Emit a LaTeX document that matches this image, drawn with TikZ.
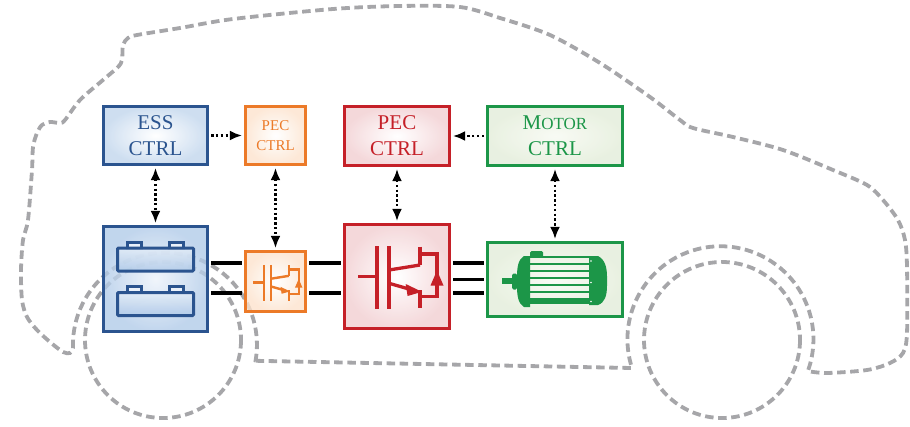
\documentclass[tikz,border=0pt]{standalone}
\usepackage{fontspec}
\setmainfont{Liberation Serif}
\usetikzlibrary{arrows.meta}

\definecolor{essblue}{HTML}{2B548F}
\definecolor{essfill}{HTML}{C0D5EC}
\definecolor{battfill}{HTML}{B0CAE8}
\definecolor{pecorange}{HTML}{EC7A28}
\definecolor{pecfill}{HTML}{FCE2CC}
\definecolor{invred}{HTML}{C52028}
\definecolor{invfill}{HTML}{F1CDD0}
\definecolor{motgreen}{HTML}{1C9648}
\definecolor{motfill}{HTML}{E2ECD8}
\definecolor{cargray}{HTML}{A6A6A9}

\newcommand\bigtxt{\fontsize{21}{26}\selectfont}
\newcommand\smalltxt{\fontsize{15}{19.5}\selectfont}
\newcommand\sctxt{\fontsize{17}{26}\selectfont}

\tikzset{
  box/.style={draw, line width=3.6pt, inner sep=0pt, align=center,
    fill opacity=0.78, text opacity=1, draw opacity=1},
  car/.style={draw=cargray, line width=3.8pt, dash pattern=on 8.5pt off 4.6pt},
  sigtip/.tip={Latex[length=12pt,width=10pt]},
  sig/.style={line width=2.2pt, dash pattern=on 2.4pt off 2.4pt,
    shorten <=1.8pt, shorten >=1.8pt},
  power/.style={line width=3.6pt, black, shorten <=1.8pt, shorten >=1.8pt},
  % IGBT with anti-parallel diode, drawn about its centre
  igbt/.pic={
    \draw (-39,0) -- (-20,0);
    \draw (-20,-30.5) -- (-20,32);
    \draw (-8,-30.5) -- (-8,32);
    \draw (-8,-6.5) -- (23,-11.5);
    \draw (23,-30) -- (23,-11.5);
    \draw (23,-22.5) -- (40,-22.5) -- (40,20) -- (23,20);
    \fill (40,-6) -- (46.5,9) -- (33.5,9) -- cycle;
    \draw (-8,6.8) -- (12,12.5);
    \fill (25,15.3) -- (8.7,7.5) -- (10.6,19.5) -- cycle;
    \draw (23,13.5) -- (23,31.5);
  },
  % one battery cell, drawn about the centre of its body
  cell/.pic={
    \draw[essblue, line width=3pt, fill={rgb,255:red,234;green,241;blue,250}]
      (-28,-17.5) rectangle (-14,-11.5)
      (14,-17.5) rectangle (28,-11.5);
    \draw[essblue, line width=3pt, rounded corners=1pt, fill opacity=0.85,
      top color={rgb,255:red,228;green,237;blue,248}, bottom color=battfill]
      (-38,-11.5) rectangle (38,11.5);
  },
  % electric motor
  motor/.pic={
    \fill (-53,-1.5) rectangle (-40,4.5);
    \fill[rounded corners=1.5pt] (-43,-6) rectangle (-38,10);
    \fill (-25,-23.5) -- (-31,-23.5) .. controls (-37,-20) and (-38,-12) .. (-38,-2)
      -- (-38,6) .. controls (-38,16) and (-37,24) .. (-31,27.5) -- (-25,27.5) -- cycle;
    \fill[rounded corners=1.5pt] (-25,-22) -- (-25,-28.5) -- (-12,-28.5) -- (-12,-22) -- cycle;
    \foreach \yy in {-22.5,-15.5,-8.5,-1.5,5.5,12.5}
      \draw[line width=2.8pt] (-25,\yy) -- (34,\yy);
    \fill (-25,18.5) rectangle (34,24.5);
    \fill (34,-23.5) -- (43,-23.5) .. controls (50,-20) and (52,-12) .. (52,-3)
      -- (52,6) .. controls (52,16) and (50,23) .. (43,25.5) -- (34,25.5) -- cycle;
    \fill[white] (36,-18.5) circle (0.8) (36,3) circle (0.8) (36,22) circle (0.8);
  },
}

\begin{document}
\begin{tikzpicture}[x=1pt,y=-1pt]
\useasboundingbox (0,0) rectangle (910,426);

% vehicle body outline and wheels
\draw[car] (255.6,360.8) -- (632,368)
  arc[start angle=162, end angle=380, radius=93]
  -- plot[smooth, tension=0.5] coordinates {
    (807.8,371.1) (827,373) (867,370) (890,363) (903,353) (907,333)
    (907,267) (905,240) (898,220) (883,200) (867,185) (833,170) (783,150)
    (733,137) (693,128) (680,120) (650,97) (600,63) (550,35) (500,18)
    (460,7) (400,6) (333,9) (233,19) (180,28) (137,35) (128,38) (123,45)
    (122,60) (118,67) (103,80) (80,100) (65,120) (60,123) (50,122) (42,125)
    (37,133) (33,147) (32,170) (28,220) (23,240) (21,270) (22,300) (27,317)
    (37,330) (50,342) (63,352) (70,353) (73,348)}
  arc[start angle=178, end angle=370, radius=92] -- cycle;
\draw[car] (163,340) circle (78);
\draw[car] (722,340) circle (78);

% controllers
\node[box, draw=essblue, inner color=white, outer color=essfill, text=essblue,
  font=\bigtxt, minimum width=104pt, minimum height=58pt]
  (essc) at (155.5,135.5) {ESS\\CTRL};
\node[box, draw=pecorange, inner color=white, outer color=pecfill, text=pecorange,
  font=\smalltxt, minimum width=60pt, minimum height=58pt]
  (pecs) at (275.5,135.5) {PEC\\CTRL};
\node[box, draw=invred, inner color=white, outer color=invfill, text=invred,
  font=\bigtxt, minimum width=105pt, minimum height=59pt]
  (pecc) at (397,136) {PEC\\CTRL};
\node[box, draw=motgreen, inner color={rgb,255:red,246;green,249;blue,241},
  outer color=motfill, text=motgreen,
  font=\bigtxt, minimum width=135pt, minimum height=59pt]
  (motc) at (555,136) {M{\sctxt OTOR}\\CTRL};

% power stage
\node[box, draw=essblue, inner color={rgb,255:red,236;green,242;blue,250},
  outer color=battfill, minimum width=104pt, minimum height=105pt]
  (batt) at (155.5,279) {};
\node[box, draw=pecorange, inner color=white, outer color=pecfill,
  minimum width=60pt, minimum height=60pt]
  (conv) at (275.5,281.5) {};
\node[box, draw=invred, inner color=white, outer color=invfill,
  minimum width=105pt, minimum height=104pt]
  (inv) at (397,276.5) {};
\node[box, draw=motgreen, inner color={rgb,255:red,246;green,249;blue,241},
  outer color=motfill, minimum width=135pt, minimum height=74pt]
  (mot) at (555,279.5) {};

% symbols inside the power stage boxes
\pic at ([yshift=19.5pt]batt.center) {cell};
\pic at ([yshift=-25pt]batt.center) {cell};
\pic[color=pecorange, line width=2.4pt, scale=0.58] at ([yshift=-1pt]conv.center) {igbt};
\pic[color=invred, line width=3.3pt] at (inv.center) {igbt};
\pic[color=motgreen] at (mot.center) {motor};

% DC and AC links
\coordinate (p1) at ([yshift=16pt]batt.east);
\coordinate (p2) at ([yshift=-14pt]batt.east);
\draw[power] (p1) -- (p1 -| conv.west);
\draw[power] (p2) -- (p2 -| conv.west);
\draw[power] (p1 -| conv.east) -- (p1 -| inv.west);
\draw[power] (p2 -| conv.east) -- (p2 -| inv.west);
\draw[power] (p1 -| inv.east) -- (p1 -| mot.west);
\draw[power] (mot.west -| inv.east) -- (mot.west);
\draw[power] (p2 -| inv.east) -- (p2 -| mot.west);

% control signals
\draw[sig, sigtip-sigtip] (essc.south) -- (batt.north);
\draw[sig, sigtip-sigtip] (pecs.south) -- (conv.north);
\draw[sig, sigtip-sigtip] (pecc.south) -- (inv.north);
\draw[sig, sigtip-sigtip] (motc.south) -- (mot.north);
\draw[sig, -sigtip] (essc.east) -- (pecs.west);
\draw[sig, -sigtip] (motc.west) -- (pecc.east);
\end{tikzpicture}
\end{document}
